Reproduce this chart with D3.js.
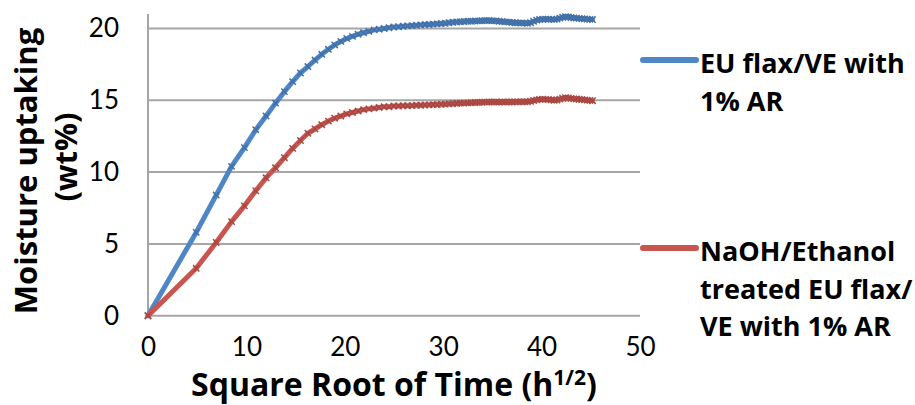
<!DOCTYPE html>
<html>
<head>
<meta charset="utf-8">
<script src="https://cdn.jsdelivr.net/npm/d3@7"></script>
<style>
  html, body { margin: 0; padding: 0; background: #fff; }
  svg { display: block; }
  text { font-family: Lato, "Open Sans", sans-serif; fill: #000; }
  .title { font-family: "Open Sans", Lato, sans-serif; font-weight: bold; }
</style>
</head>
<body>
<svg id="chart" width="915" height="405"></svg>
<script>
// Square root of time (h^1/2), one reading per day
const sqrtTime = [0.00, 4.90, 6.93, 8.49, 9.80, 10.95, 12.00, 12.96, 13.86, 14.70,
  15.49, 16.25, 16.97, 17.66, 18.33, 18.97, 19.60, 20.20, 20.78, 21.35,
  21.91, 22.45, 22.98, 23.49, 24.00, 24.49, 24.98, 25.46, 25.92, 26.38,
  26.83, 27.28, 27.71, 28.14, 28.57, 28.98, 29.39, 29.80, 30.20, 30.59,
  30.98, 31.37, 31.75, 32.12, 32.50, 32.86, 33.23, 33.59, 33.94, 34.29,
  34.64, 34.99, 35.33, 35.67, 36.00, 36.33, 36.66, 36.99, 37.31, 37.63,
  37.95, 38.26, 38.57, 38.88, 39.19, 39.50, 39.80, 40.10, 40.40, 40.69,
  40.99, 41.28, 41.57, 41.86, 42.14, 42.43, 42.71, 42.99, 43.27, 43.54,
  43.82, 44.09, 44.36, 44.63, 44.90, 45.17];

// Moisture uptake (wt%) — untreated EU flax/VE with 1% AR
const untreated = [0.00, 5.80, 8.40, 10.40, 11.70, 12.95, 13.90, 14.80, 15.60, 16.30,
  16.90, 17.35, 17.80, 18.20, 18.55, 18.85, 19.10, 19.30, 19.45, 19.60,
  19.70, 19.80, 19.90, 19.95, 20.00, 20.05, 20.10, 20.12, 20.15, 20.18,
  20.20, 20.22, 20.25, 20.27, 20.28, 20.30, 20.32, 20.34, 20.36, 20.40,
  20.43, 20.45, 20.47, 20.48, 20.50, 20.50, 20.52, 20.53, 20.54, 20.55,
  20.55, 20.54, 20.53, 20.50, 20.48, 20.46, 20.44, 20.42, 20.40, 20.39,
  20.38, 20.37, 20.36, 20.40, 20.50, 20.58, 20.62, 20.64, 20.65, 20.64,
  20.63, 20.62, 20.65, 20.72, 20.78, 20.82, 20.80, 20.76, 20.73, 20.72,
  20.70, 20.68, 20.67, 20.65, 20.63, 20.62];

// Moisture uptake (wt%) — NaOH/ethanol treated EU flax/VE with 1% AR
const treated = [0.00, 3.30, 5.10, 6.55, 7.65, 8.70, 9.60, 10.30, 11.00, 11.65,
  12.20, 12.70, 13.00, 13.30, 13.55, 13.75, 13.90, 14.05, 14.15, 14.25,
  14.35, 14.40, 14.45, 14.50, 14.55, 14.55, 14.60, 14.60, 14.62, 14.62,
  14.63, 14.65, 14.65, 14.67, 14.68, 14.70, 14.70, 14.72, 14.73, 14.75,
  14.77, 14.78, 14.80, 14.80, 14.82, 14.83, 14.84, 14.85, 14.86, 14.87,
  14.88, 14.88, 14.88, 14.87, 14.88, 14.88, 14.88, 14.88, 14.89, 14.89,
  14.90, 14.90, 14.90, 14.93, 14.98, 15.03, 15.06, 15.07, 15.06, 15.05,
  15.03, 15.00, 15.02, 15.08, 15.14, 15.18, 15.17, 15.13, 15.10, 15.09,
  15.07, 15.05, 15.03, 15.01, 14.99, 14.97];

const xTicks = [0, 10, 20, 30, 40, 50];
const yTicks = [0, 5, 10, 15, 20];

const seriesNames = [
  ["EU flax/VE with", "1% AR"],
  ["NaOH/Ethanol", "treated EU flax/", "VE with 1% AR"]
];
const seriesColors = ["#4F86C6", "#C9554F"];
const seriesValues = [untreated, treated];

const svg = d3.select("#chart");
const x = d3.scaleLinear().domain([0, 50]).range([148, 640]);
const y = d3.scaleLinear().domain([0, 21]).range([315.7, 14.1]);

// horizontal gridlines
svg.append("g")
  .selectAll("line")
  .data(yTicks)
  .join("line")
  .attr("x1", x(0)).attr("x2", x(50))
  .attr("y1", d => y(d)).attr("y2", d => y(d))
  .attr("stroke", "#A6A6A6").attr("stroke-width", 2);

// vertical axis line
svg.append("line")
  .attr("x1", x(0)).attr("x2", x(0))
  .attr("y1", y(21)).attr("y2", y(0))
  .attr("stroke", "#A6A6A6").attr("stroke-width", 2);

// y tick labels
const yAxis = d3.axisLeft(y).tickValues(yTicks).tickSize(0).tickPadding(29);
const gy = svg.append("g").attr("transform", `translate(${x(0)},0)`).call(yAxis);
gy.select(".domain").remove();
gy.selectAll("text").attr("font-size", 26).attr("font-family", "Lato").attr("fill", "#000");

// x tick labels
const xAxis = d3.axisBottom(x).tickValues(xTicks).tickSize(0).tickPadding(22);
const gx = svg.append("g").attr("transform", `translate(0,${y(0)})`).call(xAxis);
gx.select(".domain").remove();
gx.selectAll("text").attr("font-size", 26).attr("font-family", "Lato").attr("fill", "#000");

// series lines with markers
const line = d3.line().x((d, i) => x(sqrtTime[i])).y(d => y(d));
const marker = d3.symbol().type(d3.symbolTimes).size(28);

seriesValues.forEach((vals, s) => {
  const g = svg.append("g");
  g.append("path")
    .datum(vals)
    .attr("d", line)
    .attr("fill", "none")
    .attr("stroke", seriesColors[s])
    .attr("stroke-width", 5)
    .attr("stroke-linejoin", "round")
    .attr("stroke-linecap", "round");
  g.selectAll("path.mk")
    .data(vals)
    .join("path")
    .attr("class", "mk")
    .attr("d", marker)
    .attr("transform", (d, i) => `translate(${x(sqrtTime[i])},${y(d)})`)
    .attr("fill", "none")
    .attr("stroke", d3.color(seriesColors[s]).darker(0.5))
    .attr("stroke-width", 1.5);
});

// legend
const legendY = [60, 248];
seriesNames.forEach((lines, s) => {
  const g = svg.append("g");
  g.append("line")
    .attr("x1", 643).attr("x2", 696)
    .attr("y1", legendY[s]).attr("y2", legendY[s])
    .attr("stroke", seriesColors[s]).attr("stroke-width", 6)
    .attr("stroke-linecap", "round");
  lines.forEach((t, j) => {
    g.append("text")
      .attr("class", "title")
      .attr("x", 700)
      .attr("y", legendY[s] + 13 + j * 37.5)
      .attr("font-size", 27)
      .text(t);
  });
});

// axis titles
const xt = svg.append("text")
  .attr("class", "title")
  .attr("x", 394).attr("y", 396)
  .attr("text-anchor", "middle")
  .attr("font-size", 32);
xt.append("tspan").text("Square Root of Time (h");
xt.append("tspan").attr("dy", -11).attr("font-size", 21).text("1/2");
xt.append("tspan").attr("dy", 11).text(")");

svg.append("text")
  .attr("class", "title")
  .attr("transform", "translate(37,171) rotate(-90)")
  .attr("text-anchor", "middle")
  .attr("font-size", 31)
  .text("Moisture uptaking");
svg.append("text")
  .attr("class", "title")
  .attr("transform", "translate(77,157) rotate(-90)")
  .attr("text-anchor", "middle")
  .attr("font-size", 31)
  .text("(wt%)");
</script>
</body>
</html>
